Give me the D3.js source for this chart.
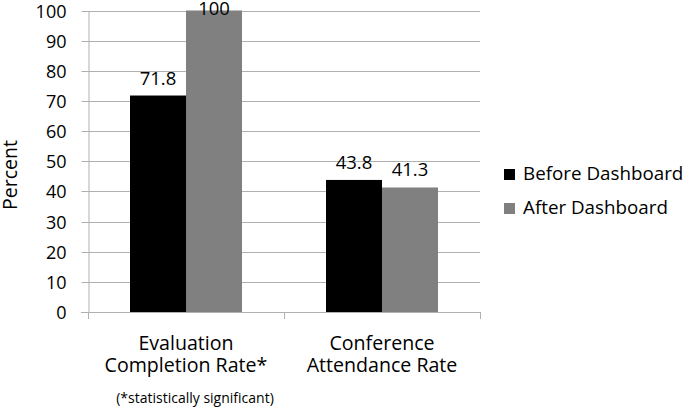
<!DOCTYPE html>
<html><head><meta charset="utf-8">
<script src="https://cdn.jsdelivr.net/npm/d3@7"></script>
<style>
html,body{margin:0;padding:0;background:#fff;}
svg text{font-family:"Open Sans",Lato,sans-serif;fill:#000;}
</style></head>
<body>
<svg id="chart" width="685" height="408"></svg>
<script>
const categories = [["Evaluation","Completion Rate*"],["Conference","Attendance Rate"]];
const categoryKeys = ["Evaluation Completion Rate*","Conference Attendance Rate"];
const seriesNames = ["Before Dashboard","After Dashboard"];
const beforeValues = [71.8, 43.8];
const afterValues = [100, 41.3];
const seriesColors = ["#000000","#808080"];
const yTicks = [0,10,20,30,40,50,60,70,80,90,100];
const footnote = "(*statistically significant)";
const yTitle = "Percent";

(function(){
const svg = d3.select("#chart");
const pL = 88, pR = 480, pT = 10.5, pB = 312;
const grid = "#b0b0b0";

const y = d3.scaleLinear().domain([0,100]).range([pB, pT]);
const x0 = d3.scaleBand().domain(categoryKeys).range([pL, pR])
  .paddingInner(84/196).paddingOuter(42/196);
const x1 = d3.scaleBand().domain(seriesNames).range([0, x0.bandwidth()]);

// gridlines
svg.append("g").selectAll("line").data(yTicks.filter(d=>d>0)).join("line")
  .attr("x1", pL).attr("x2", pR)
  .attr("y1", d=>Math.round(y(d))+0.5).attr("y2", d=>Math.round(y(d))+0.5)
  .attr("stroke", grid).attr("stroke-width",1);

// y axis
const yAxis = svg.append("g").attr("transform",`translate(${pL+0.5},0)`)
  .call(d3.axisLeft(y).tickValues(yTicks).tickSize(7).tickPadding(15).tickSizeOuter(0));
yAxis.select(".domain").attr("stroke", grid);
yAxis.selectAll(".tick line").attr("stroke", grid);
yAxis.selectAll(".tick").attr("transform", d=>`translate(0,${Math.round(y(d))+0.5})`);
yAxis.selectAll("text").style("font-size","18px").style("font-family","Open Sans").attr("dy","0.36em");

// bars
const data = categoryKeys.map((c,i)=>({cat:c, vals:[beforeValues[i], afterValues[i]]}));
const groups = svg.append("g").selectAll("g").data(data).join("g")
  .attr("transform", d=>`translate(${x0(d.cat)},0)`);
groups.selectAll("rect").data(d=>d.vals.map((v,j)=>({s:seriesNames[j], v, j}))).join("rect")
  .attr("x", d=>x1(d.s)).attr("width", x1.bandwidth())
  .attr("y", d=>y(d.v)).attr("height", d=>y(0)-y(d.v))
  .attr("fill", d=>seriesColors[d.j]);
groups.selectAll("text").data(d=>d.vals.map((v,j)=>({s:seriesNames[j], v, j}))).join("text")
  .attr("x", d=>x1(d.s)+x1.bandwidth()/2)
  .attr("y", d=>Math.max(y(d.v)-11, 15))
  .attr("text-anchor","middle").style("font-size","18.5px")
  .text(d=>String(d.v));

// x axis line and ticks
svg.append("line").attr("x1", pL-7).attr("x2", pR).attr("y1", pB+0.5).attr("y2", pB+0.5)
  .attr("stroke", grid);
const bounds = d3.range(categoryKeys.length+1).map(i=>pL + i*x0.step());
svg.append("g").selectAll("line").data(bounds).join("line")
  .attr("x1", d=>d+0.5).attr("x2", d=>d+0.5).attr("y1", pB).attr("y2", pB+7)
  .attr("stroke", grid);

// category labels
const catG = svg.append("g").selectAll("text").data(categoryKeys).join("text")
  .attr("x", d=>x0(d)+x0.bandwidth()/2).attr("y", 349.5)
  .attr("text-anchor","middle").style("font-size","19.6px");
catG.selectAll("tspan").data((d,i)=>categories[i]).join("tspan")
  .attr("x", function(){return this.parentNode.getAttribute("x");})
  .attr("dy", (d,i)=> i===0 ? 0 : 22.4)
  .text(d=>d);

svg.append("text").attr("x", x0(categoryKeys[0])+x0.bandwidth()/2 + 9).attr("y", 403)
  .attr("text-anchor","middle").style("font-size","14px").text(footnote);

// y title
svg.append("text").attr("transform","translate(16.5,175) rotate(-90)")
  .attr("text-anchor","middle").style("font-size","19.5px").text(yTitle);

// legend
const leg = svg.append("g").selectAll("g").data(seriesNames).join("g")
  .attr("transform",(d,i)=>`translate(504,${169 + i*34})`);
leg.append("rect").attr("width",11).attr("height",11).attr("fill",(d,i)=>seriesColors[i]);
leg.append("text").attr("x",19).attr("y",10.5).style("font-size","18.8px").text(d=>d);
})();
</script>
</body></html>
